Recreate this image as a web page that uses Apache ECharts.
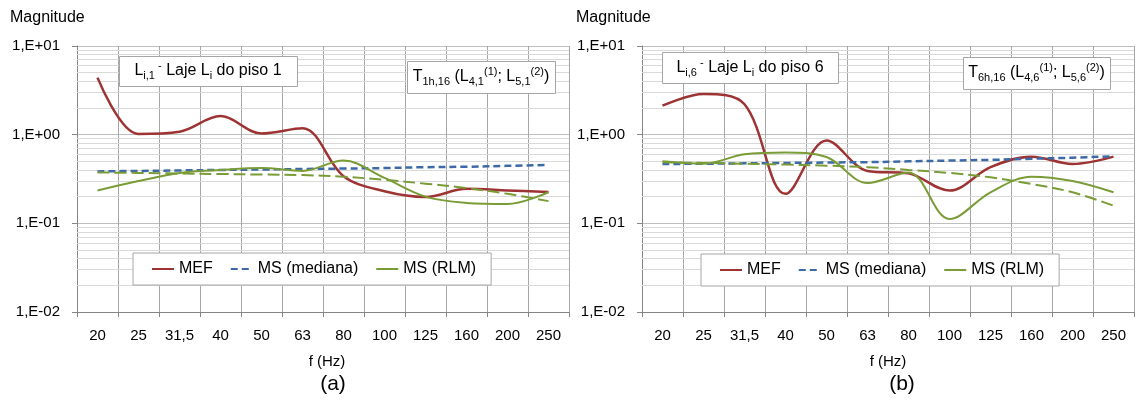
<!DOCTYPE html>
<html><head><meta charset="utf-8">
<script src="https://cdn.jsdelivr.net/npm/echarts@6/dist/echarts.min.js"></script>
<style>html,body{margin:0;padding:0;background:#fff}#c{width:1136px;height:407px}</style>
</head><body><div id="c"></div>
<script>
// ---- data ----
const categories = ['20','25','31,5','40','50','63','80','100','125','160','200','250'];
const legendNames = ['MEF','MS (mediana)','MS (RLM)'];
const minorGridValues = [0.02,0.03,0.04,0.05,0.06,0.07,0.08,0.09,0.2,0.3,0.4,0.5,0.6,0.7,0.8,0.9,2,3,4,5,6,7,8,9];

// (a) piso 1
const mefA      = [4.4, 1.02, 1.08, 1.62, 1.03, 1.18, 0.34, 0.23, 0.198, 0.245, 0.235, 0.225];
const medianaA  = [0.385, 0.39, 0.395, 0.40, 0.405, 0.41, 0.415, 0.42, 0.43, 0.435, 0.445, 0.455];
const rlmA      = [0.235, 0.30, 0.37, 0.40, 0.42, 0.39, 0.51, 0.325, 0.20, 0.17, 0.165, 0.224];
const rlmDashA  = [0.375, 0.37, 0.365, 0.36, 0.355, 0.35, 0.335, 0.31, 0.28, 0.25, 0.215, 0.178];

// (b) piso 6
const mefB      = [2.12, 2.88, 2.2, 0.215, 0.86, 0.39, 0.366, 0.234, 0.43, 0.565, 0.467, 0.565];
const medianaB  = [0.467, 0.47, 0.475, 0.48, 0.485, 0.49, 0.50, 0.51, 0.52, 0.535, 0.55, 0.57];
const rlmB      = [0.50, 0.47, 0.60, 0.63, 0.56, 0.285, 0.375, 0.112, 0.224, 0.335, 0.30, 0.224];
const rlmDashB  = [0.487, 0.48, 0.47, 0.46, 0.447, 0.43, 0.40, 0.37, 0.33, 0.278, 0.224, 0.158];

// ---- styling ----
const FONT = 'Liberation Sans';
const RED = '#9E3333', BLUE = '#3D6AA6', GREEN = '#7A9C37';
const VGRID = '#A6A6A6', MINOR = '#D9D9D9', AXIS = '#868686';

function expLabel(v){
  const e = Math.round(Math.log10(v));
  return '1,E' + (e < 0 ? '-' : '+') + String(Math.abs(e)).padStart(2,'0');
}

const grids = [
  {left:77, top:46, width:492, height:266},
  {left:642, top:46, width:492, height:266}
];

function xAxis(i){
  return {
    type:'category', gridIndex:i, data:categories, boundaryGap:true,
    axisLine:{show:true, lineStyle:{color:AXIS, width:1}},
    axisTick:{show:true, length:5, interval:0, lineStyle:{color:AXIS}},
    axisLabel:{interval:0, margin:16, fontFamily:FONT, fontSize:15, color:'#000'},
    splitLine:{show:true, interval:0, lineStyle:{color:VGRID, width:1}}
  };
}
function yAxis(i){
  return {
    type:'log', logBase:10, gridIndex:i, min:0.01, max:10,
    axisLine:{show:true, lineStyle:{color:AXIS, width:1}},
    axisTick:{show:true, length:5, lineStyle:{color:AXIS}},
    axisLabel:{formatter:expLabel, margin:17, fontFamily:FONT, fontSize:15, color:'#000'},
    splitLine:{show:true, lineStyle:{color:'#BFBFBF', width:1}},
    minorTick:{show:false}, minorSplitLine:{show:false}
  };
}

function seriesFor(i, mef, med, rlm, rlmDash){
  const base = {type:'line', xAxisIndex:i, yAxisIndex:i, showSymbol:false, symbol:'none', smooth:0.35, animation:false, z:3};
  return [
    {type:'line', name:'minor-grid-'+i, xAxisIndex:i, yAxisIndex:i, data:categories.map(()=>null), silent:true, z:1,
     animation:false,
     markLine:{silent:true, symbol:['none','none'], animation:false, label:{show:false}, z:1,
       lineStyle:{color:MINOR, width:1, type:'solid'},
       data: minorGridValues.map(v=>({yAxis:v}))}},
    Object.assign({}, base, {name:'MEF', data:mef, lineStyle:{color:RED, width:2.5}, itemStyle:{color:RED}}),
    Object.assign({}, base, {name:'MS (mediana)', data:med, lineStyle:{color:BLUE, width:2.5, type:[7,4]}, itemStyle:{color:BLUE}}),
    Object.assign({}, base, {name:'MS (RLM)', data:rlm, lineStyle:{color:GREEN, width:2}, itemStyle:{color:GREEN}}),
    Object.assign({}, base, {name:'MS (RLM) tendência', data:rlmDash, lineStyle:{color:GREEN, width:2, type:[12,5]}, itemStyle:{color:GREEN}})
  ];
}

function legend(left, top){
  return {
    left:left, top:top, orient:'horizontal', data:legendNames,
    borderColor:'#A6A6A6', borderWidth:1, backgroundColor:'#fff', borderRadius:0,
    padding:[8,15,8,18], itemGap:17, itemWidth:22, itemHeight:12,
    itemStyle:{opacity:0},
    textStyle:{fontFamily:FONT, fontSize:16, color:'#000'}, selectedMode:false, z:10
  };
}

const rich = {
  n:{fontFamily:FONT, fontSize:16, color:'#000'},
  sub:{fontFamily:FONT, fontSize:11, color:'#000', padding:[10,0,0,0]},
  sup:{fontFamily:FONT, fontSize:11, color:'#000', padding:[0,0,10,0]}
};
function box(x, y, w, h, text){
  return {type:'group', children:[
    {type:'rect', z:100, shape:{x:x+0.5, y:y+0.5, width:w, height:h}, style:{fill:'#fff', stroke:'#A6A6A6', lineWidth:1}},
    {type:'text', z:101, x:x+w/2, y:y+h/2, style:{text:text, rich:rich, align:'center', verticalAlign:'middle', fontFamily:FONT, fontSize:16, fill:'#000'}}
  ]};
}
function label(x, y, text, size, align){
  return {type:'text', x:x, y:y, z:100, style:{text:text, align:align||'center', verticalAlign:'middle', fontFamily:FONT, fontSize:size, fill:'#000'}};
}

const option = {
  backgroundColor:'#fff',
  animation:false,
  grid: grids,
  xAxis:[xAxis(0), xAxis(1)],
  yAxis:[yAxis(0), yAxis(1)],
  legend:[legend(133,253), legend(701,254)],
  series:[].concat(
    seriesFor(0, mefA, medianaA, rlmA, rlmDashA),
    seriesFor(1, mefB, medianaB, rlmB, rlmDashB)
  ),
  graphic:{elements:[
    label(10, 18, 'Magnitude', 16, 'left'),
    label(576, 18, 'Magnitude', 16, 'left'),
    label(327, 362, 'f (Hz)', 15),
    label(888, 362, 'f (Hz)', 15),
    label(333, 384, '(a)', 21),
    label(902, 384, '(b)', 21),
    box(119, 56, 178, 30, '{n|L}{sub|i,1}{sup| -}{n| Laje L}{sub|i}{n| do piso 1}'),
    box(407, 61, 148, 32, '{n|T}{sub|1h,16}{n| (L}{sub|4,1}{sup|(1)}{n|; L}{sub|5,1}{sup|(2)}{n|)}'),
    box(662, 52, 176, 31, '{n|L}{sub|i,6}{sup| -}{n| Laje L}{sub|i}{n| do piso 6}'),
    box(963, 57, 147, 32, '{n|T}{sub|6h,16}{n| (L}{sub|4,6}{sup|(1)}{n|; L}{sub|5,6}{sup|(2)}{n|)}')
  ]}
};

const chart = echarts.init(document.getElementById('c'), null, {renderer:'canvas'});
chart.setOption(option);
</script>
</body></html>
